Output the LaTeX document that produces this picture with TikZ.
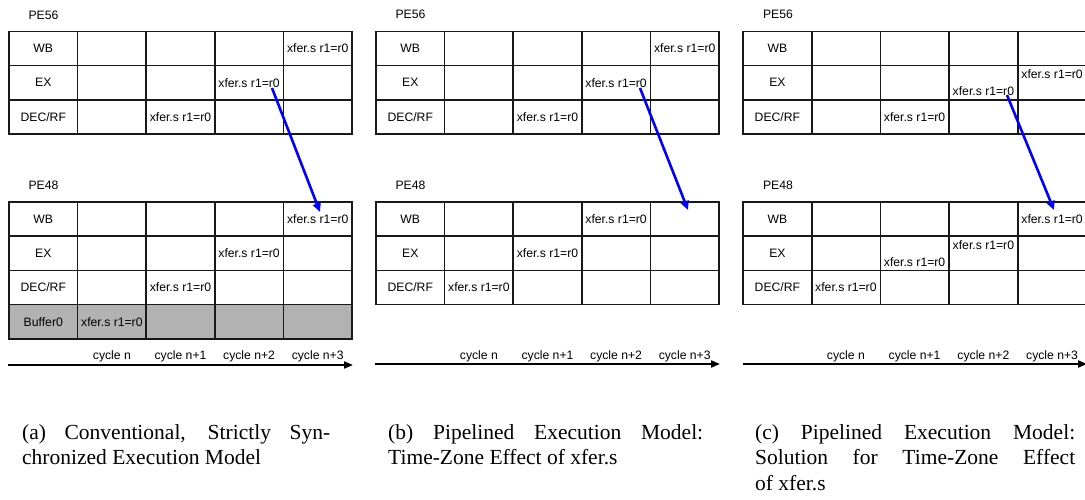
\documentclass[tikz,border=0pt]{standalone}
\usepackage{fontspec}
\setmainfont{Liberation Serif}
\newfontfamily\hvfont{Liberation Sans}
\usetikzlibrary{arrows.meta}
\begin{document}
\begin{tikzpicture}[x=1pt,y=-1pt,
  gridline/.style={draw=black!90, line width=1.6pt},
  bufcell/.style={fill=black!30},
  celltxt/.style={font=\hvfont\fontsize{12.2}{14}\selectfont, inner sep=0pt, anchor=center},
  petxt/.style={font=\hvfont\fontsize{12.2}{14}\selectfont, inner sep=0pt, anchor=center},
  captxt/.style={font=\fontsize{21.5}{26}\selectfont, inner sep=0pt, anchor=base west},
  timeaxis/.style={line width=2pt, -{Triangle[length=9pt,width=7pt]}},
  transfer/.style={draw={rgb,255:red,0;green,0;blue,255}, line width=2.6pt, -{Triangle[length=9pt,width=8pt]}}
]
\useasboundingbox (0,0) rectangle (1085,500);
\def\cw{68.6}
\def\rh{34.2}
% ---------------- (a) ----------------
\fill[bufcell] (9,304.6) rectangle (352,338.8);
\foreach \r in {0,1,2} \foreach \c in {0,...,4}
  \draw[gridline] ({9+\c*\cw},{31.5+\r*\rh}) rectangle ++(\cw,\rh);
\foreach \r in {0,1,2,3} \foreach \c in {0,...,4}
  \draw[gridline] ({9+\c*\cw},{202+\r*\rh}) rectangle ++(\cw,\rh);
\node[petxt] (aPEt) at (43.5,15) {PE56};
\node[petxt] (aPEb) at (43.5,185) {PE48};
\node[celltxt] (aT1) at (43.3,48.6) {WB};
\node[celltxt] (aT2) at (43.3,82.8) {EX};
\node[celltxt] (aT3) at (43.3,117) {DEC/RF};
\node[celltxt] (aTwb) at (317.7,48.6) {xfer.s r1=r0};
\node[celltxt] (aTex) at (249.1,82.8) {xfer.s r1=r0};
\node[celltxt] (aTdec) at (180.5,117) {xfer.s r1=r0};
\node[celltxt] (aB1) at (43.3,219.1) {WB};
\node[celltxt] (aB2) at (43.3,253.3) {EX};
\node[celltxt] (aB3) at (43.3,287.5) {DEC/RF};
\node[celltxt] (aB4) at (43.3,321.7) {Buffer0};
\node[celltxt] (aBwb) at (317.7,219.1) {xfer.s r1=r0};
\node[celltxt] (aBex) at (249.1,253.3) {xfer.s r1=r0};
\node[celltxt] (aBdec) at (180.5,287.5) {xfer.s r1=r0};
\node[celltxt] (aBbuf) at (111.9,321.7) {xfer.s r1=r0};
\node[celltxt] (aC1) at (111.9,356) {cycle n};
\node[celltxt] (aC2) at (180.5,356) {cycle n+1};
\node[celltxt] (aC3) at (249.1,356) {cycle n+2};
\node[celltxt] (aC4) at (317.7,356) {cycle n+3};
\coordinate (aAx0) at (8,365);
\coordinate (aAx1) at (353,365);
\draw[timeaxis] (aAx0) -- (aAx1);
\coordinate (aS) at (272,88);
\coordinate (aE) at (320,212);
\draw[transfer] (aS) -- (aE);
\node[captxt] (capa1) at (22,439) {\makebox[308pt][s]{(a) Conventional, Strictly Syn-}};
\node[captxt] (capa2) at (22,464.5) {chronized Execution Model};
% ---------------- (b) ----------------
\foreach \r in {0,1,2} \foreach \c in {0,...,4}
  \draw[gridline] ({376+\c*\cw},{31.5+\r*\rh}) rectangle ++(\cw,\rh);
\foreach \r in {0,1,2} \foreach \c in {0,...,4}
  \draw[gridline] ({376+\c*\cw},{202+\r*\rh}) rectangle ++(\cw,\rh);
\node[petxt] (bPEt) at (410.5,14) {PE56};
\node[petxt] (bPEb) at (410.5,185) {PE48};
\node[celltxt] (bT1) at (410.3,48.6) {WB};
\node[celltxt] (bT2) at (410.3,82.8) {EX};
\node[celltxt] (bT3) at (410.3,117) {DEC/RF};
\node[celltxt] (bTwb) at (684.7,48.6) {xfer.s r1=r0};
\node[celltxt] (bTex) at (616.1,82.8) {xfer.s r1=r0};
\node[celltxt] (bTdec) at (547.5,117) {xfer.s r1=r0};
\node[celltxt] (bB1) at (410.3,219.1) {WB};
\node[celltxt] (bB2) at (410.3,253.3) {EX};
\node[celltxt] (bB3) at (410.3,287.5) {DEC/RF};
\node[celltxt] (bBwb) at (616.1,219.1) {xfer.s r1=r0};
\node[celltxt] (bBex) at (547.5,253.3) {xfer.s r1=r0};
\node[celltxt] (bBdec) at (478.9,287.5) {xfer.s r1=r0};
\node[celltxt] (bC1) at (478.9,356) {cycle n};
\node[celltxt] (bC2) at (547.5,356) {cycle n+1};
\node[celltxt] (bC3) at (616.1,356) {cycle n+2};
\node[celltxt] (bC4) at (684.7,356) {cycle n+3};
\coordinate (bAx0) at (375,364);
\coordinate (bAx1) at (720,364);
\draw[timeaxis] (bAx0) -- (bAx1);
\coordinate (bS) at (640,88);
\coordinate (bE) at (688,210);
\draw[transfer] (bS) -- (bE);
\node[captxt] (capb1) at (388,439) {\makebox[315pt][s]{(b) Pipelined Execution Model:}};
\node[captxt] (capb2) at (388,464.5) {Time-Zone Effect of xfer.s};
% ---------------- (c) ----------------
\def\cwc{68.75}
\foreach \r in {0,1,2} \foreach \c in {0,...,4}
  \draw[gridline] ({743+\c*\cwc},{31.5+\r*\rh}) rectangle ++(\cwc,\rh);
\foreach \r in {0,1,2} \foreach \c in {0,...,4}
  \draw[gridline] ({743+\c*\cwc},{202+\r*\rh}) rectangle ++(\cwc,\rh);
\node[petxt] (cPEt) at (778,14) {PE56};
\node[petxt] (cPEb) at (778,185) {PE48};
\node[celltxt] (cT1) at (777.4,48.6) {WB};
\node[celltxt] (cT2) at (777.4,82.8) {EX};
\node[celltxt] (cT3) at (777.4,117) {DEC/RF};
\node[celltxt] (cTex2) at (1052.1,74) {xfer.s r1=r0};
\node[celltxt] (cTex) at (983.4,91) {xfer.s r1=r0};
\node[celltxt] (cTdec) at (914.6,117) {xfer.s r1=r0};
\node[celltxt] (cB1) at (777.4,219.1) {WB};
\node[celltxt] (cB2) at (777.4,253.3) {EX};
\node[celltxt] (cB3) at (777.4,287.5) {DEC/RF};
\node[celltxt] (cBwb) at (1052.1,219.1) {xfer.s r1=r0};
\node[celltxt] (cBex2) at (983.4,245) {xfer.s r1=r0};
\node[celltxt] (cBex) at (914.6,262) {xfer.s r1=r0};
\node[celltxt] (cBdec) at (845.9,287.5) {xfer.s r1=r0};
\node[celltxt] (cC1) at (845.9,356) {cycle n};
\node[celltxt] (cC2) at (914.6,356) {cycle n+1};
\node[celltxt] (cC3) at (983.4,356) {cycle n+2};
\node[celltxt] (cC4) at (1052.1,356) {cycle n+3};
\coordinate (cAx0) at (743,364);
\coordinate (cAx1) at (1087,364);
\draw[timeaxis] (cAx0) -- (cAx1);
\coordinate (cS) at (1007,95);
\coordinate (cE) at (1054,210);
\draw[transfer] (cS) -- (cE);
\node[captxt] (capc1) at (755,439) {\makebox[320pt][s]{(c) Pipelined Execution Model:}};
\node[captxt] (capc2) at (755,464.5) {\makebox[320pt][s]{Solution for Time-Zone Effect}};
\node[captxt] (capc3) at (755,490) {of xfer.s};
\end{tikzpicture}
\end{document}
